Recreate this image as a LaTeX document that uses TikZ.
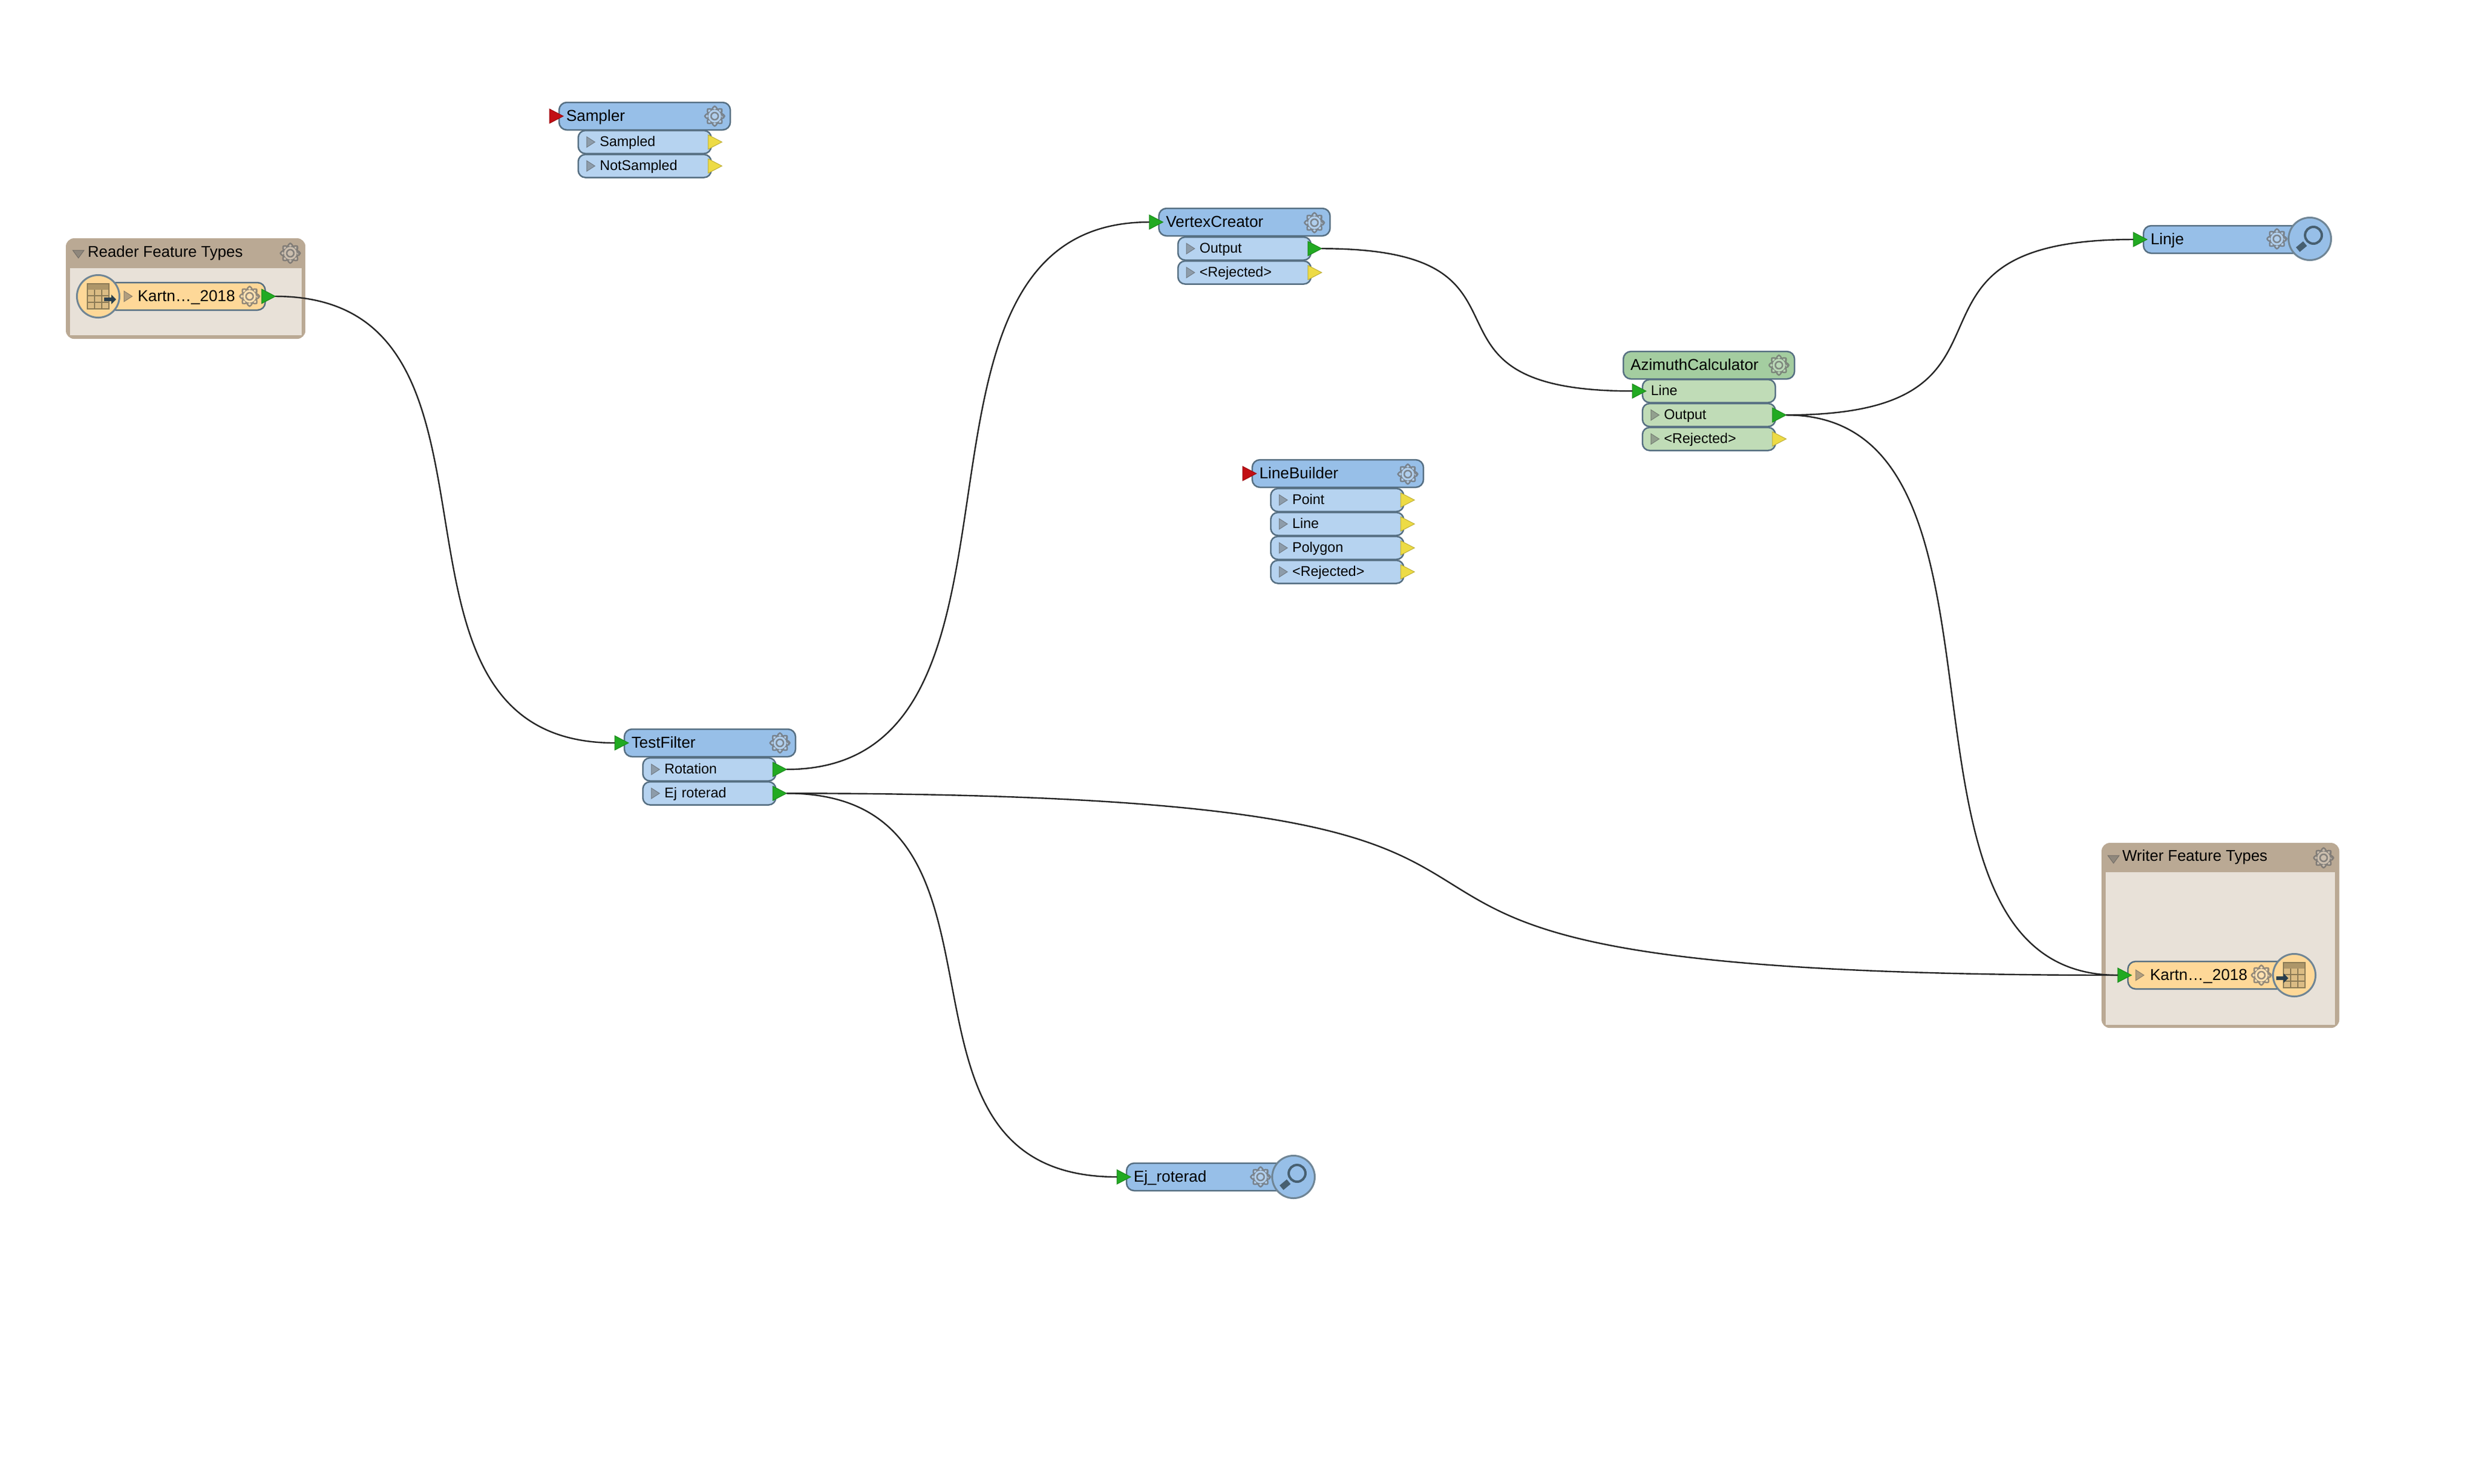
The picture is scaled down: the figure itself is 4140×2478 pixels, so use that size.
\documentclass[tikz,border=0pt]{standalone}
\usepackage{fontspec}
\setmainfont{Liberation Sans}
\usetikzlibrary{shapes.geometric}

\definecolor{fmeblue}{HTML}{97BFE8}
\definecolor{fmebluerow}{HTML}{B6D3F0}
\definecolor{fmegreen}{HTML}{A4CDA0}
\definecolor{fmegreenrow}{HTML}{C0DCB7}
\definecolor{fmeorange}{HTML}{FED898}
\definecolor{fmeedge}{HTML}{566F82}
\definecolor{groupbrown}{HTML}{BAA994}
\definecolor{groupfill}{HTML}{E8E1D8}
\definecolor{tipgreen}{HTML}{22AA22}
\definecolor{tipyellow}{HTML}{EDDB45}
\definecolor{tipred}{HTML}{C20F14}
\definecolor{icondark}{HTML}{334D60}
\definecolor{tablebrown}{HTML}{8B7A55}

\tikzset{
  gearicon/.pic={
    \path [draw=black!60, line width=.025cm, fill=white, fill opacity=.25, draw opacity=.7, rounded corners=.02cm]
      (-22.5:12) \foreach \a in {0,45,...,315} {-- (\a-14:12.5) -- (\a-9:16.5) -- (\a+9:16.5) -- (\a+14:12.5) -- (\a+22.5:12)} -- cycle;
    \path [draw=black!60, line width=.025cm, draw opacity=.7] (0,0) circle (6);
  },
  lensicon/.pic={
    \draw [icondark!90!white, line width=.04cm] (6,-6) circle (14);
    \draw [icondark!90!white, line width=.1cm] (-20,18) -- (-8,8);
  },
  tableicon/.pic={
    \path [fill=tablebrown!30!fmeorange] (-18,-21) rectangle (18,21);
    \path [fill=tablebrown!70!fmeorange] (-18,-21) rectangle (18,-11);
    \draw [tablebrown, line width=.02cm] (-18,-21) rectangle (18,21);
    \foreach \y in {-1,10} {\draw [tablebrown, line width=.02cm] (-18,\y) -- (18,\y);}
    \foreach \x in {-6,6} {\draw [tablebrown, line width=.02cm] (\x,-11) -- (\x,21);}
    \path [fill=icondark!80!black] (#1,2) -- (#1+12,2) -- (#1+12,-3) -- (#1+20,5) -- (#1+12,13) -- (#1+12,8) -- (#1,8) -- cycle;
  }
}

\begin{document}
\begin{tikzpicture}[x=.01cm, y=-.01cm]
    \tikzstyle{box} = [rectangle, draw=fmeedge, line width=.025cm, anchor=north west,
    inner ysep=0pt, outer sep=0pt, align=left]
    \tikzstyle{header} = [box, rounded corners=.13cm, fill=fmeblue, minimum height=.46cm,
    inner xsep=.12cm, text width=2.62cm, text height=.16cm, text depth=0pt,
    font=\fontsize{7.5}{9}\selectfont]
    \tikzstyle{portrow} = [box, rounded corners=.12cm, fill=fmebluerow, minimum height=.385cm,
    inner xsep=.36cm, text width=1.5cm, text height=.15cm, text depth=0pt,
    font=\fontsize{6.7}{8}\selectfont]
    \tikzstyle{bar} = [header, fill=fmeorange, inner xsep=.5cm, text width=1.63cm]
    \tikzstyle{logger} = [header, inner xsep=.12cm, text width=2.55cm]
    \tikzstyle{badge} = [circle, draw=fmeedge!85!white, line width=.03cm, minimum size=.71cm, inner sep=0pt]
    \tikzstyle{tip} = [isosceles triangle, isosceles triangle stretches, shape border rotate=0,
    minimum width=.24cm, minimum height=.23cm, inner sep=0pt, outer sep=0pt, line width=.01cm, anchor=lower side]
    \tikzstyle{greentip} = [tip, fill=tipgreen, draw=tipgreen!80!black]
    \tikzstyle{yellowtip} = [tip, fill=tipyellow, draw=tipyellow!80!black]
    \tikzstyle{redtip} = [tip, fill=tipred, draw=tipred!80!black]
    \tikzstyle{expander} = [isosceles triangle, isosceles triangle stretches, minimum width=.18cm,
    minimum height=.14cm, inner sep=0pt, outer sep=0pt, anchor=lower side, fill=black!60, draw=black!70,
    line width=.01cm, opacity=.5]
    \tikzstyle{group} = [rectangle, rounded corners=.14cm, fill=groupbrown, anchor=north west, inner sep=0pt, outer sep=0pt]
    \tikzstyle{groupbody} = [rectangle, fill=groupfill, anchor=north west, inner sep=0pt, outer sep=0pt]
    \tikzstyle{grouptitle} = [anchor=base west, inner sep=0pt, font=\fontsize{7.4}{9}\selectfont]
    \tikzstyle{groupmark} = [isosceles triangle, isosceles triangle stretches, shape border rotate=-90,
    minimum width=.19cm, minimum height=.13cm, inner sep=0pt, fill=black!60, draw=black!70,
    line width=.01cm, opacity=.5]
    \tikzstyle{wire} = [draw=black!85, line width=.024cm]

    \useasboundingbox (0,0) rectangle (4140,2478);

    % reader group
    \node [group, minimum width=4cm, minimum height=1.68cm] (readergroup) at (110,398) {};
    \node [groupbody, minimum width=3.87cm, minimum height=1.12cm] (readerbody) at (117,448) {};
    \node [grouptitle] (readertitle) at (146,429) {Reader Feature Types};
    \node [groupmark] (readermark) at (131,423) {};
    \pic at (485,423) {gearicon};
    \node [bar, minimum width=2.63cm] (readerbar) at (180,472) {Kartn…\_2018};
    \node [expander] (readerexp) at ([xshift=.27cm]readerbar.west) {};
    \pic at (417,495) {gearicon};
    \node [greentip] (readerout) at ([xshift=-.06cm]readerbar.east) {};
    \node [badge, fill=fmeorange] (readerbadge) at (164,495) {};
    \pic at (164,495) {tableicon=10};

    % writer group
    \node [group, minimum width=3.97cm, minimum height=3.09cm] (writergroup) at (3511,1408) {};
    \node [groupbody, minimum width=3.83cm, minimum height=2.55cm] (writerbody) at (3518,1457) {};
    \node [grouptitle] (writertitle) at (3545,1438) {Writer Feature Types};
    \node [groupmark] (writermark) at (3531,1434) {};
    \pic at (3882,1433) {gearicon};
    \node [bar, inner xsep=.37cm, text width=2.04cm] (writerbar) at (3555,1606) {Kartn…\_2018};
    \node [expander] (writerexp) at ([xshift=.13cm]writerbar.west) {};
    \pic at (3778,1629) {gearicon};
    \node [greentip] (writerin) at ([xshift=-.17cm]writerbar.west) {};
    \node [badge, fill=fmeorange] (writerbadge) at (3833,1629) {};
    \pic at (3833,1629) {tableicon=-30};

    % sampler
    \node [header] (sampler) at (934,171) {Sampler};
    \pic at (1194,194) {gearicon};
    \node [redtip] (samplerin) at ([xshift=-.16cm]sampler.west) {};
    \node [portrow] (sampled) at (966,218) {Sampled};
    \node [portrow] (notsampled) at (966,258) {NotSampled};
    \node [expander] at ([xshift=.14cm]sampled.west) {};
    \node [expander] at ([xshift=.14cm]notsampled.west) {};
    \node [yellowtip] (sampledout) at ([xshift=-.05cm]sampled.east) {};
    \node [yellowtip] (notsampledout) at ([xshift=-.05cm]notsampled.east) {};

    % vertex creator
    \node [header] (vertex) at (1936,348) {VertexCreator};
    \pic at (2196,372) {gearicon};
    \node [greentip] (vertexin) at ([xshift=-.16cm]vertex.west) {};
    \node [portrow] (vertexoutput) at (1968,396) {Output};
    \node [portrow] (vertexrej) at (1968,436) {<Rejected>};
    \node [expander] at ([xshift=.14cm]vertexoutput.west) {};
    \node [expander] at ([xshift=.14cm]vertexrej.west) {};
    \node [greentip] (vertexout) at ([xshift=-.05cm]vertexoutput.east) {};
    \node [yellowtip] (vertexrejout) at ([xshift=-.05cm]vertexrej.east) {};

    % azimuth calculator
    \node [header, fill=fmegreen] (azimuth) at (2712,587) {AzimuthCalculator};
    \pic at (2972,610) {gearicon};
    \node [portrow, fill=fmegreenrow, inner xsep=.14cm, text width=1.94cm] (azline) at (2744,634) {Line};
    \node [portrow, fill=fmegreenrow] (azoutput) at (2744,674) {Output};
    \node [portrow, fill=fmegreenrow] (azrej) at (2744,714) {<Rejected>};
    \node [expander] at ([xshift=.14cm]azoutput.west) {};
    \node [expander] at ([xshift=.14cm]azrej.west) {};
    \node [greentip] (azin) at ([xshift=-.17cm]azline.west) {};
    \node [greentip] (azout) at ([xshift=-.05cm]azoutput.east) {};
    \node [yellowtip] (azrejout) at ([xshift=-.05cm]azrej.east) {};

    % line builder
    \node [header] (linebuilder) at (2092,768) {LineBuilder};
    \pic at (2352,792) {gearicon};
    \node [redtip] (linebuilderin) at ([xshift=-.16cm]linebuilder.west) {};
    \node [portrow] (lbpoint) at (2123,816) {Point};
    \node [portrow] (lbline) at (2123,856) {Line};
    \node [portrow] (lbpolygon) at (2123,896) {Polygon};
    \node [portrow] (lbrej) at (2123,936) {<Rejected>};
    \foreach \r in {lbpoint,lbline,lbpolygon,lbrej} {
        \node [expander] at ([xshift=.14cm]\r.west) {};
        \node [yellowtip] (\r out) at ([xshift=-.05cm]\r.east) {};
    }

    % test filter
    \node [header] (testfilter) at (1043,1218) {TestFilter};
    \pic at (1303,1241) {gearicon};
    \node [greentip] (testfilterin) at ([xshift=-.16cm]testfilter.west) {};
    \node [portrow] (rotation) at (1074,1266) {Rotation};
    \node [portrow] (ejrow) at (1074,1306) {Ej roterad};
    \node [expander] at ([xshift=.14cm]rotation.west) {};
    \node [expander] at ([xshift=.14cm]ejrow.west) {};
    \node [greentip] (rotationout) at ([xshift=-.05cm]rotation.east) {};
    \node [greentip] (ejrowout) at ([xshift=-.05cm]ejrow.east) {};

    % loggers
    \node [logger, minimum width=2.79cm] (linje) at (3581,377) {Linje};
    \pic at (3804,399) {gearicon};
    \node [greentip] (linjein) at ([xshift=-.17cm]linje.west) {};
    \node [badge, fill=fmeblue] (linjebadge) at (3859,399) {};
    \pic at (3859,399) {lensicon};

    \node [logger, minimum width=2.79cm] (ejlogger) at (1882,1943) {Ej\_roterad};
    \pic at (2106,1966) {gearicon};
    \node [greentip] (ejloggerin) at ([xshift=-.16cm]ejlogger.west) {};
    \node [badge, fill=fmeblue] (ejbadge) at (2161,1966) {};
    \pic at (2161,1966) {lensicon};

    % connections
    \path [wire] (readerout.apex) .. controls +(445,0) and +(-445,0) .. (testfilterin.lower side);
    \path [wire] (rotationout.apex) .. controls +(470,0) and +(-470,0) .. (vertexin.lower side);
    \path [wire] (ejrowout.apex) .. controls +(1735,0) and +(-1735,0) .. (writerin.lower side);
    \path [wire] (ejrowout.apex) .. controls +(430,0) and +(-430,0) .. (ejloggerin.lower side);
    \path [wire] (vertexout.apex) .. controls +(405,0) and +(-405,0) .. (azin.lower side);
    \path [wire] (azout.apex) .. controls +(450,0) and +(-450,0) .. (linjein.lower side);
    \path [wire] (azout.apex) .. controls +(430,0) and +(-430,0) .. (writerin.lower side);
\end{tikzpicture}
\end{document}
